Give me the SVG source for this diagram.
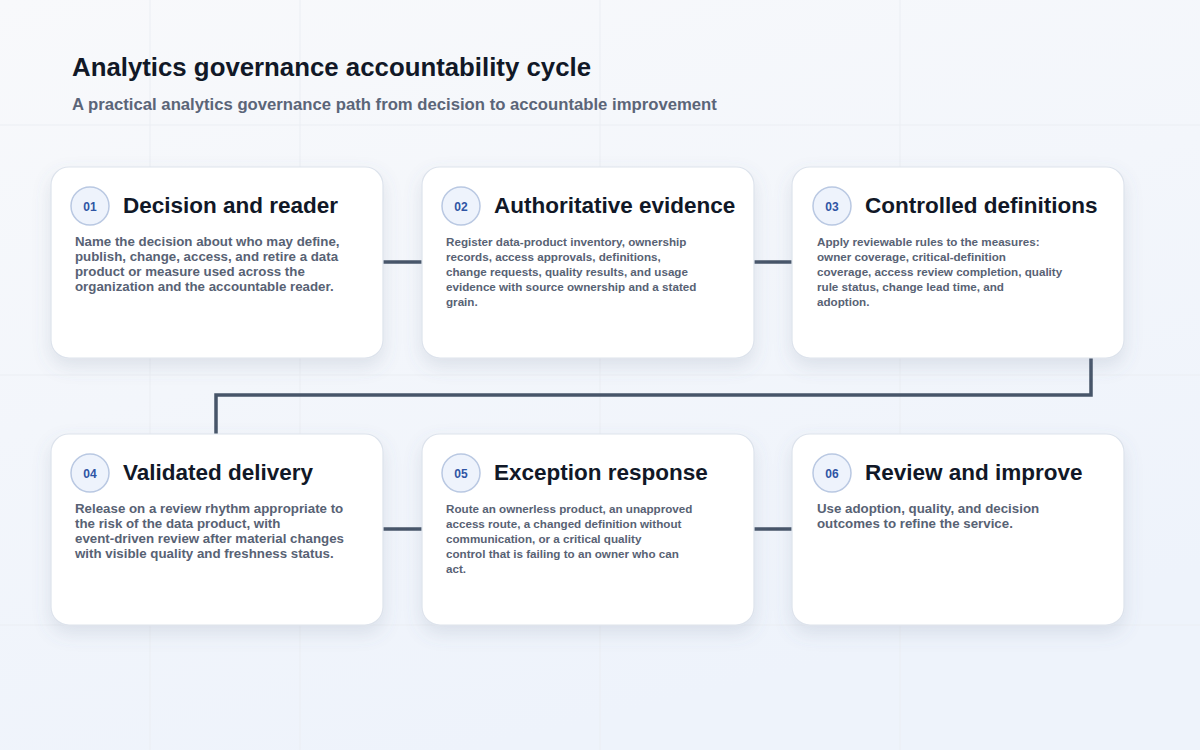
<svg xmlns="http://www.w3.org/2000/svg" width="1200" height="750" viewBox="0 0 1200 750">
  <defs>
    <linearGradient id="bg" x1="0" y1="0" x2="0.4" y2="1">
      <stop offset="0" stop-color="#f8f9fb"/>
      <stop offset="1" stop-color="#eef3fb"/>
    </linearGradient>
    <filter id="shadow" x="-20%" y="-20%" width="140%" height="150%">
      <feDropShadow dx="0" dy="8" stdDeviation="9" flood-color="#64748b" flood-opacity="0.16"/>
    </filter>
    <style>
      .card { fill: #ffffff; stroke: #dde3ec; stroke-width: 1.2; }
      .badge { fill: #eef3fc; stroke: #b9c8e2; stroke-width: 1.5; }
      .num { font-family: "Liberation Sans", Arial, sans-serif; font-size: 12px; font-weight: 700; fill: #2f55a4; text-anchor: middle; }
      .title { font-family: "Liberation Sans", Arial, sans-serif; font-size: 22.5px; font-weight: 700; fill: #111827; }
      .body { font-family: "Liberation Sans", Arial, sans-serif; font-weight: 700; fill: #586274; }
      .b13 { font-size: 13.3px; }
      .b12 { font-size: 11.65px; }
      .conn { fill: none; stroke: #475569; stroke-width: 3.5; }
      .grid { stroke: #ebeef3; stroke-width: 1; }
    </style>
  </defs>
  <rect width="1200" height="750" fill="url(#bg)"/>
  <g id="grid" class="grid">
    <line x1="150" y1="0" x2="150" y2="750"/>
    <line x1="300" y1="0" x2="300" y2="750"/>
    <line x1="600" y1="0" x2="600" y2="750"/>
    <line x1="900" y1="0" x2="900" y2="750"/>
    <line x1="0" y1="125" x2="1200" y2="125"/>
    <line x1="0" y1="375" x2="1200" y2="375"/>
    <line x1="0" y1="625" x2="1200" y2="625"/>
  </g>

  <g id="header">
    <text x="72" y="76" font-family="'Liberation Sans', Arial, sans-serif" font-size="25.8" font-weight="700" fill="#111827">Analytics governance accountability cycle</text>
    <text x="72" y="110" font-family="'Liberation Sans', Arial, sans-serif" font-size="16.7" font-weight="700" fill="#5b6578">A practical analytics governance path from decision to accountable improvement</text>
  </g>

  <g id="connectors">
    <line class="conn" x1="383" y1="262" x2="422" y2="262"/>
    <line class="conn" x1="754" y1="262" x2="792" y2="262"/>
    <polyline class="conn" points="1091,358 1091,395 216,395 216,434"/>
    <line class="conn" x1="383" y1="529" x2="422" y2="529"/>
    <line class="conn" x1="754" y1="529" x2="792" y2="529"/>
  </g>

  <g id="node-01">
    <rect class="card" x="51" y="167" width="332" height="191" rx="18" filter="url(#shadow)"/>
    <circle class="badge" cx="90" cy="206" r="19"/>
    <text class="num" x="90" y="210.5">01</text>
    <text class="title" x="123" y="213">Decision and reader</text>
    <text class="body b13" x="75" y="246">
      <tspan x="75" y="246">Name the decision about who may define,</tspan>
      <tspan x="75" y="261">publish, change, access, and retire a data</tspan>
      <tspan x="75" y="276">product or measure used across the</tspan>
      <tspan x="75" y="291">organization and the accountable reader.</tspan>
    </text>
  </g>

  <g id="node-02">
    <rect class="card" x="422" y="167" width="332" height="191" rx="18" filter="url(#shadow)"/>
    <circle class="badge" cx="461" cy="206" r="19"/>
    <text class="num" x="461" y="210.5">02</text>
    <text class="title" x="494" y="213">Authoritative evidence</text>
    <text class="body b12" x="446" y="246">
      <tspan x="446" y="246">Register data-product inventory, ownership</tspan>
      <tspan x="446" y="261">records, access approvals, definitions,</tspan>
      <tspan x="446" y="276">change requests, quality results, and usage</tspan>
      <tspan x="446" y="291">evidence with source ownership and a stated</tspan>
      <tspan x="446" y="306">grain.</tspan>
    </text>
  </g>

  <g id="node-03">
    <rect class="card" x="792" y="167" width="332" height="191" rx="18" filter="url(#shadow)"/>
    <circle class="badge" cx="832" cy="206" r="19"/>
    <text class="num" x="832" y="210.5">03</text>
    <text class="title" x="865" y="213">Controlled definitions</text>
    <text class="body b12" x="817" y="246">
      <tspan x="817" y="246">Apply reviewable rules to the measures:</tspan>
      <tspan x="817" y="261">owner coverage, critical-definition</tspan>
      <tspan x="817" y="276">coverage, access review completion, quality</tspan>
      <tspan x="817" y="291">rule status, change lead time, and</tspan>
      <tspan x="817" y="306">adoption.</tspan>
    </text>
  </g>

  <g id="node-04">
    <rect class="card" x="51" y="434" width="332" height="191" rx="18" filter="url(#shadow)"/>
    <circle class="badge" cx="90" cy="473" r="19"/>
    <text class="num" x="90" y="477.5">04</text>
    <text class="title" x="123" y="480">Validated delivery</text>
    <text class="body b13" x="75" y="513">
      <tspan x="75" y="513">Release on a review rhythm appropriate to</tspan>
      <tspan x="75" y="528">the risk of the data product, with</tspan>
      <tspan x="75" y="543">event-driven review after material changes</tspan>
      <tspan x="75" y="558">with visible quality and freshness status.</tspan>
    </text>
  </g>

  <g id="node-05">
    <rect class="card" x="422" y="434" width="332" height="191" rx="18" filter="url(#shadow)"/>
    <circle class="badge" cx="461" cy="473" r="19"/>
    <text class="num" x="461" y="477.5">05</text>
    <text class="title" x="494" y="480">Exception response</text>
    <text class="body b12" x="446" y="513">
      <tspan x="446" y="513">Route an ownerless product, an unapproved</tspan>
      <tspan x="446" y="528">access route, a changed definition without</tspan>
      <tspan x="446" y="543">communication, or a critical quality</tspan>
      <tspan x="446" y="558">control that is failing to an owner who can</tspan>
      <tspan x="446" y="573">act.</tspan>
    </text>
  </g>

  <g id="node-06">
    <rect class="card" x="792" y="434" width="332" height="191" rx="18" filter="url(#shadow)"/>
    <circle class="badge" cx="832" cy="473" r="19"/>
    <text class="num" x="832" y="477.5">06</text>
    <text class="title" x="865" y="480">Review and improve</text>
    <text class="body b13" x="817" y="513">
      <tspan x="817" y="513">Use adoption, quality, and decision</tspan>
      <tspan x="817" y="528">outcomes to refine the service.</tspan>
    </text>
  </g>
</svg>
